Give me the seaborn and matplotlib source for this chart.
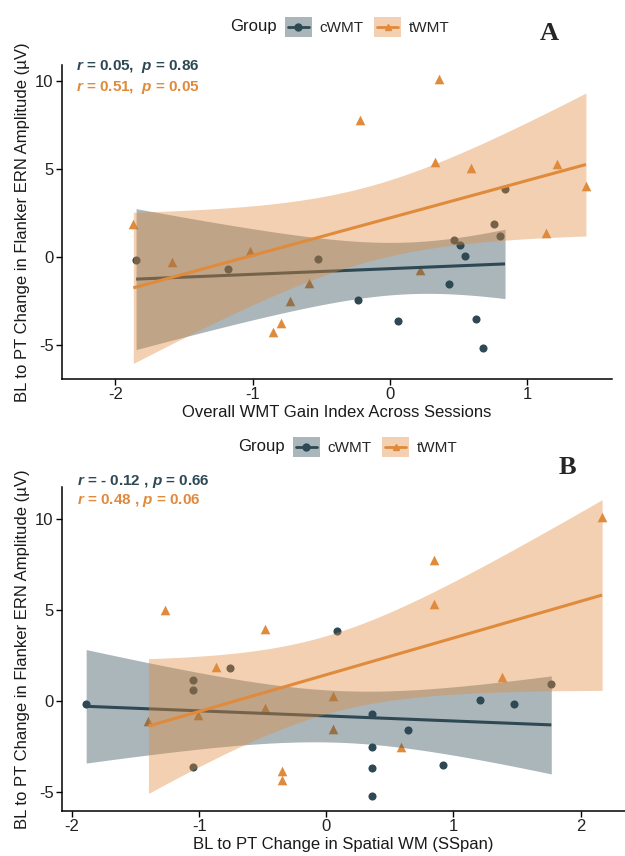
import numpy as np
import pandas as pd
import matplotlib
matplotlib.use('Agg')
import matplotlib.pyplot as plt
import seaborn as sns
from matplotlib.patches import Rectangle
from matplotlib.lines import Line2D
from matplotlib.legend_handler import HandlerBase

GROUPS = ['cWMT', 'tWMT']
COLORS = {'cWMT': '#2E4954', 'tWMT': '#E08A3C'}
MARKERS = {'cWMT': 'o', 'tWMT': '^'}
SIZES = {'cWMT': 34, 'tWMT': 48}

# ── Panel A: overall WMT gain index ──────────────────────────────────────────
A_C_X = [-1.85, -1.18, -0.52, -0.23, 0.06, 0.43, 0.47, 0.51, 0.55, 0.63, 0.68, 0.76, 0.80, 0.84]
A_C_Y = [-0.15, -0.70, -0.13, -2.46, -3.63, -1.51, 0.98, 0.66, 0.08, -3.54, -5.18, 1.87, 1.17, 3.86]
A_T_X = [-1.87, -1.59, -1.02, -0.85, -0.79, -0.73, -0.59, -0.22, 0.22, 0.33, 0.36, 0.59, 1.14, 1.22, 1.43]
A_T_Y = [1.89, -0.30, 0.32, -4.27, -3.76, -2.50, -1.47, 7.79, -0.72, 5.37, 10.11, 5.05, 1.38, 5.29, 4.01]
A_STATS = ['$r$ = 0.05,  $p$ = 0.86', '$r$ = 0.51,  $p$ = 0.05']

# ── Panel B: spatial WM change ───────────────────────────────────────────────
B_C_X = [-1.89, -1.05, -1.05, -1.05, -0.76, 0.08, 0.36, 0.36, 0.36, 0.36, 0.64, 0.92, 1.21, 1.48, 1.77]
B_C_Y = [-0.18, 1.13, 0.63, -3.62, 1.83, 3.84, -0.72, -2.51, -3.69, -5.24, -1.57, -3.54, 0.04, -0.15, 0.96]
B_T_X = [-1.40, -1.27, -1.01, -0.87, -0.48, -0.48, -0.35, -0.35, 0.05, 0.05, 0.59, 0.85, 0.85, 1.38, 2.17]
B_T_Y = [-1.11, 5.02, -0.76, 1.85, -0.37, 3.97, -3.84, -4.34, 0.28, -1.53, -2.55, 7.75, 5.35, 1.33, 10.11]
B_STATS = ['$r$ = - 0.12 , $p$ = 0.66', '$r$ = 0.48 , $p$ = 0.06']

Y_LABEL = 'BL to PT Change in Flanker ERN Amplitude (µV)'
T975 = {12: 2.179, 13: 2.160}   # t critical values, 95% CI


class KeyHandler(HandlerBase):
    """ggplot-like legend key: shaded box + line + marker."""
    def create_artists(self, legend, orig, xd, yd, width, height, fontsize, trans):
        g = orig.get_label()
        box = Rectangle((-xd, -yd), width, height, facecolor=COLORS[g], alpha=0.4,
                        edgecolor='none', transform=trans)
        cy = -yd + height / 2
        line = Line2D([-xd + 0.12 * width, -xd + 0.88 * width], [cy, cy],
                      color=COLORS[g], lw=2, transform=trans)
        mark = Line2D([-xd + width / 2], [cy], color=COLORS[g], marker=MARKERS[g],
                      markersize=5, lw=0, transform=trans)
        return [box, line, mark]


def make_df(cx, cy, tx, ty):
    return pd.DataFrame({
        'x': cx + tx,
        'y': cy + ty,
        'Group': ['cWMT'] * len(cx) + ['tWMT'] * len(tx),
    })


def lm_band(x, y, n=100):
    """OLS fit + 95% confidence band (like geom_smooth(method='lm'))."""
    x = np.asarray(x, float)
    y = np.asarray(y, float)
    k = len(x)
    b1, b0 = np.polyfit(x, y, 1)
    xs = np.linspace(x.min(), x.max(), n)
    fit = b0 + b1 * xs
    s = np.sqrt(((y - (b0 + b1 * x)) ** 2).sum() / (k - 2))
    se = s * np.sqrt(1 / k + (xs - x.mean()) ** 2 / ((x - x.mean()) ** 2).sum())
    t = T975[k - 2]
    return xs, fit, fit - t * se, fit + t * se


def draw_panel(ax, df, xlim, ylim, xlabel, stats, stat_y, letter, letter_xy, legend_x, legend_y):
    # points first, ribbons/lines on top (ggplot layer order)
    for g in GROUPS:
        sns.scatterplot(data=df[df.Group == g], x='x', y='y', color=COLORS[g],
                        marker=MARKERS[g], s=SIZES[g], linewidth=0,
                        legend=False, ax=ax, zorder=1)
    z = 2
    for g in GROUPS:
        sub = df[df.Group == g]
        xs, fit, lo, hi = lm_band(sub.x, sub.y)
        ax.fill_between(xs, lo, hi, color=COLORS[g], alpha=0.4, lw=0, zorder=z)
        ax.plot(xs, fit, color=COLORS[g], lw=2.2, zorder=z + 1, solid_capstyle='butt')
        z += 2

    ax.set_xlim(*xlim)
    ax.set_ylim(*ylim)
    ax.set_xticks([t for t in [-2, -1, 0, 1, 2] if xlim[0] <= t <= xlim[1]])
    ax.set_yticks([-5, 0, 5, 10])
    ax.set_xlabel(xlabel, fontsize=12, color='#1a1a1a', labelpad=2)
    ax.set_ylabel(Y_LABEL, fontsize=12, color='#1a1a1a', labelpad=4)
    ax.tick_params(direction='out', length=4, width=1, labelsize=12,
                   colors='black', labelcolor='#222222', pad=2)
    for side in ['top', 'right']:
        ax.spines[side].set_visible(False)
    for side in ['left', 'bottom']:
        ax.spines[side].set_linewidth(1.1)
        ax.spines[side].set_color('black')

    tx = xlim[0] + 0.026 * (xlim[1] - xlim[0])
    for txt, yy, g in zip(stats, stat_y, GROUPS):
        ax.text(tx, yy, txt, color=COLORS[g], fontsize=11, fontweight='bold',
                ha='left', va='center', clip_on=False)

    fig.text(letter_xy[0], letter_xy[1], letter, family='Liberation Serif',
             fontsize=19, fontweight='bold', ha='center', va='center')

    # legend above the panel
    fig.text(legend_x - 8 / W, legend_y, 'Group', fontsize=12, ha='right', va='center',
             color='#1a1a1a')
    handles = [Line2D([], [], label=g) for g in GROUPS]
    fig.legend(handles=handles, labels=GROUPS,
               handler_map={Line2D: KeyHandler()},
               ncol=2, frameon=False, loc='center left',
               bbox_to_anchor=(legend_x, legend_y), fontsize=11,
               handlelength=1.75, handleheight=1.6, handletextpad=0.5,
               columnspacing=0.7, borderpad=0, borderaxespad=0)


sns.set_theme(style='ticks')
plt.rcParams['font.family'] = ['Liberation Sans', 'DejaVu Sans']
plt.rcParams['axes.unicode_minus'] = False
plt.rcParams['mathtext.fontset'] = 'custom'
plt.rcParams['mathtext.it'] = 'Liberation Sans:italic:bold'
plt.rcParams['mathtext.rm'] = 'Liberation Sans:bold'

W, H = 625, 856
fig = plt.figure(figsize=(W / 100, H / 100), dpi=100)

ax_a = fig.add_axes([62 / W, 1 - 379 / H, 550 / W, 314 / H])
ax_b = fig.add_axes([62 / W, 1 - 811 / H, 563 / W, 324 / H])

df_a = make_df(A_C_X, A_C_Y, A_T_X, A_T_Y)
df_b = make_df(B_C_X, B_C_Y, B_T_X, B_T_Y)

draw_panel(ax_a, df_a, (-2.39, 1.62), (-6.93, 10.9),
           'Overall WMT Gain Index Across Sessions', A_STATS, [10.8, 9.6],
           'A', (549 / W, 1 - 33 / H), 285 / W, 1 - 27 / H)
draw_panel(ax_b, df_b, (-2.08, 2.35), (-6.05, 11.77),
           'BL to PT Change in Spatial WM (SSpan)', B_STATS, [12.1, 11.05],
           'B', (567 / W, 1 - 468 / H), 293 / W, 1 - 447 / H)

fig.savefig('out.png', dpi=100, facecolor='white')
